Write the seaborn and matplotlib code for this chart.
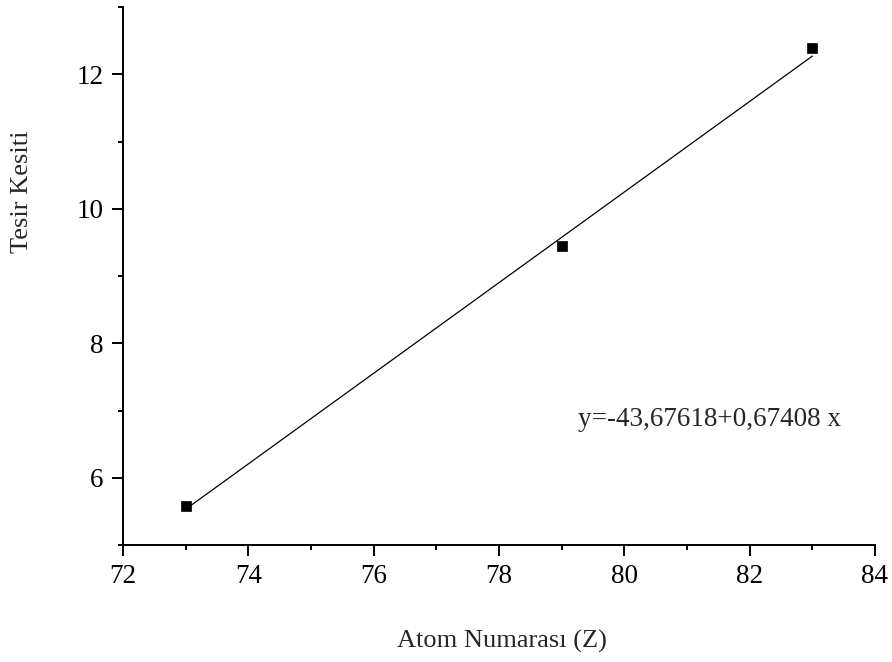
import matplotlib
matplotlib.use("Agg")
import matplotlib.pyplot as plt
from matplotlib.ticker import MultipleLocator
import seaborn as sns
import pandas as pd

# data
atom_z = [73, 79, 83]
cross_section = [5.58, 9.45, 12.39]
fit_x = [73, 83]
fit_y = [5.532, 12.270]
equation = "y=-43,67618+0,67408 x"
x_label = "Atom Numarası (Z)"
y_label = "Tesir Kesiti"

sns.set_theme(style="ticks")
plt.rcParams["font.family"] = ["Liberation Serif", "DejaVu Serif"]

fig = plt.figure(figsize=(8.92, 6.62), dpi=100)
ax = fig.add_axes([123/892, 1-545/662, (875-123)/892, (545-7)/662])

pts = pd.DataFrame({"z": atom_z, "s": cross_section})
fit = pd.DataFrame({"z": fit_x, "s": fit_y})
sns.lineplot(data=fit, x="z", y="s", ax=ax, color="black", linewidth=0.9)
sns.scatterplot(data=pts, x="z", y="s", ax=ax, marker="s", s=60, color="black",
                edgecolor="black", linewidth=0.5, zorder=3)

ax.set_xlim(72, 84)
ax.set_ylim(5, 13)
ax.xaxis.set_major_locator(MultipleLocator(2))
ax.xaxis.set_minor_locator(MultipleLocator(1))
ax.yaxis.set_major_locator(MultipleLocator(2))
ax.yaxis.set_minor_locator(MultipleLocator(1))
ax.set_xlabel("")
ax.set_ylabel("")
for sp in ["top", "right"]:
    ax.spines[sp].set_visible(False)
for sp in ["left", "bottom"]:
    ax.spines[sp].set_linewidth(1.4)
    ax.spines[sp].set_color("black")
ax.tick_params(which="major", length=8, width=1.4, labelsize=19.5, colors="black", pad=6)
ax.tick_params(which="minor", length=3.5, width=1.4, colors="black")
ax.set_facecolor("white")

fig.text(578/892, 1-419/662, equation, fontsize=19.5, ha="left", va="center")
fig.text(502/892, 1-641/662, x_label, fontsize=19, ha="center", va="center")
fig.text(22/892, 1-192/662, y_label, fontsize=19, ha="center", va="center", rotation=90)

fig.savefig("out.png", dpi=100, facecolor="white")
